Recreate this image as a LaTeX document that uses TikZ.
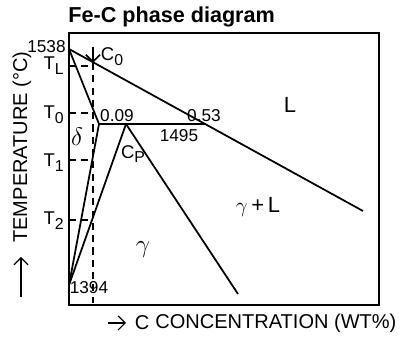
\documentclass[tikz,border=0pt]{standalone}
\usepackage{fontspec}
\setmainfont{Liberation Sans}
\usetikzlibrary{arrows.meta}
\newcommand{\lowidx}[1]{\raisebox{-0.5ex}{\small #1}}

\begin{document}
\begin{tikzpicture}[x=0.02cm,y=-0.02cm,>={Straight Barb[length=4pt]}]
  \tikzstyle{phase}=[line width=1pt]
  \tikzstyle{guide}=[line width=0.8pt,dash pattern=on 4pt off 3pt]
  \tikzstyle{lbl}=[inner sep=0pt,font=\fontsize{10.5}{12}\selectfont]
  \tikzstyle{num}=[inner sep=0pt,font=\fontsize{9.8}{11}\selectfont]
  \tikzstyle{axis}=[inner sep=0pt,font=\fontsize{11.4}{13}\selectfont]
  \useasboundingbox (0,0) rectangle (400,338);
  % frame
  \draw[line width=1.2pt] (69,33) rectangle (379,305);
  \node[anchor=west,inner sep=0pt,font=\fontsize{12.3}{14}\selectfont\bfseries] (title) at (68,17) {Fe-C phase diagram};
  % key points
  \coordinate (melt) at (69,49);
  \coordinate (liqend) at (363,211);
  \coordinate (hpt) at (99,124);
  \coordinate (cpt) at (126,124);
  \coordinate (bpt) at (205,124);
  \coordinate (npt) at (69,285);
  \coordinate (solend) at (238,294);
  % phase boundaries
  \draw[phase] (melt) -- (liqend);
  \draw[phase] (melt) -- (hpt);
  \draw[phase] (hpt) -- (bpt);
  \draw[phase] (hpt) -- (npt);
  \draw[phase] (cpt) -- (npt);
  \draw[phase] (cpt) -- (solend);
  % composition C0
  \coordinate (ctop) at (93,47);
  \coordinate (ctip) at (93,63);
  \coordinate (cbot) at (93,303);
  \draw[phase,->] (ctop) -- (ctip);
  \draw[guide] (ctip) -- (cbot);
  \foreach \yy/\nm in {66/tl,113/to,160/ta,220/tb}{
    \coordinate (\nm-a) at (69,\yy);
    \coordinate (\nm-b) at (93,\yy);
    \draw[guide] (\nm-a) -- (\nm-b);
  }
  % labels
  \node[num,anchor=east] (n1538) at (66,47) {1538};
  \node[lbl,anchor=east] (tl) at (64,66) {T\lowidx{L}};
  \node[lbl,anchor=east] (to) at (64,115) {T\lowidx{0}};
  \node[lbl,anchor=east] (ta) at (64,163) {T\lowidx{1}};
  \node[lbl,anchor=east] (tb) at (64,221) {T\lowidx{2}};
  \node[lbl] (c0) at (112,57) {C\lowidx{0}};
  \node[lbl,font=\fontsize{14}{16}\selectfont] (delta) at (77,137) {$\delta$};
  \node[num] (n009) at (117,116) {0.09};
  \node[lbl] (cp) at (133,154) {C\lowidx{P}};
  \node[num] (n1495) at (179,136) {1495};
  \node[num] (n053) at (204,116) {0.53};
  \node[lbl,font=\fontsize{12.5}{14}\selectfont] (liq) at (290,105) {L};
  \node[lbl,font=\fontsize{14}{16}\selectfont] (gam) at (143,250) {$\gamma$};
  \node[lbl,font=\fontsize{12.5}{14}\selectfont] (gaml) at (258,207) {$\gamma$\,+\,L};
  \node[num] (n1394) at (89,288) {1394};
  % axis titles
  \node[axis,rotate=90] (ylab) at (22,147) {TEMPERATURE (°C)};
  \coordinate (ya) at (21,297);
  \coordinate (yb) at (21,257);
  \draw[line width=0.7pt,->] (ya) -- (yb);
  \coordinate (xa) at (108,323);
  \coordinate (xb) at (126,323);
  \draw[line width=0.7pt,->] (xa) -- (xb);
  \node[axis] (cel) at (142,323) {C};
  \node[axis,anchor=west] (xlab) at (155,323) {CONCENTRATION (WT\%)};
\end{tikzpicture}
\end{document}
